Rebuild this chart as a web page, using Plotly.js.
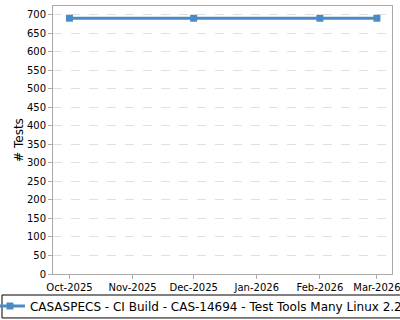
<!DOCTYPE html>
<html>
<head>
<meta charset="utf-8">
<script src="https://cdn.plot.ly/plotly-3.0.1.min.js"></script>
<style>html,body{margin:0;padding:0;background:#fff;}#chart{width:400px;height:320px;}</style>
</head>
<body>
<div id="chart"></div>
<script>
const dates = ['2025-10-01', '2025-12-01', '2026-02-01', '2026-03-01'];
const tests = [691, 691, 691, 691];
const seriesName = 'CASASPECS - CI Build - CAS-14694 - Test Tools Many Linux 2.28';
const yTitle = '# Tests';

const trace = {
  x: dates,
  y: tests,
  name: seriesName,
  type: 'scatter',
  mode: 'lines+markers',
  line: {color: '#4a8bc7', width: 3},
  marker: {color: '#4a8bc7', symbol: 'square', size: 7},
  showlegend: true
};

const layout = {
  width: 400,
  height: 320,
  margin: {l: 53, r: 8, t: 6, b: 46, autoexpand: false},
  paper_bgcolor: '#ffffff',
  plot_bgcolor: '#ffffff',
  font: {family: 'DejaVu Sans', size: 10, color: '#000'},
  showlegend: true,
  xaxis: {
    type: 'date',
    range: ['2025-09-22 22:00', '2026-03-08 10:00'],
    dtick: 'M1',
    tick0: '2025-10-01',
    tickformat: '%b-%Y',
    ticks: 'outside',
    ticklen: 4,
    tickcolor: '#aaa',
    ticklabeloverflow: 'allow',
    showgrid: false,
    showline: true,
    linecolor: '#aaa',
    linewidth: 1,
    mirror: true,
    zeroline: false,
    automargin: false,
    tickfont: {family: 'DejaVu Sans', size: 10, color: '#000'}
  },
  yaxis: {
    range: [0, 724],
    dtick: 50,
    ticks: 'outside',
    ticklen: 4,
    tickcolor: '#aaa',
    showgrid: true,
    gridcolor: '#e0e0e0',
    griddash: 'dash',
    gridwidth: 1,
    showline: true,
    linecolor: '#aaa',
    linewidth: 1,
    mirror: true,
    zeroline: false,
    automargin: true,
    title: {text: yTitle, font: {family: 'DejaVu Sans', size: 12, color: '#000'}, standoff: 0},
    tickfont: {family: 'DejaVu Sans', size: 10, color: '#000'}
  },
  legend: {
    orientation: 'h',
    x: -0.186,
    xanchor: 'left',
    y: -0.119,
    yanchor: 'middle',
    borderwidth: 0,
    bgcolor: 'rgba(0,0,0,0)',
    font: {family: 'DejaVu Sans', size: 12, color: '#000'}
  },
  shapes: [{
    type: 'rect', xref: 'paper', yref: 'paper',
    x0: -0.1504, x1: 1.04, y0: -0.0784, y1: -0.164,
    line: {color: '#000', width: 1}, fillcolor: 'rgba(0,0,0,0)', layer: 'above'
  }]
};

Plotly.newPlot('chart', [trace], layout, {displayModeBar: false, staticPlot: true});
</script>
</body>
</html>
